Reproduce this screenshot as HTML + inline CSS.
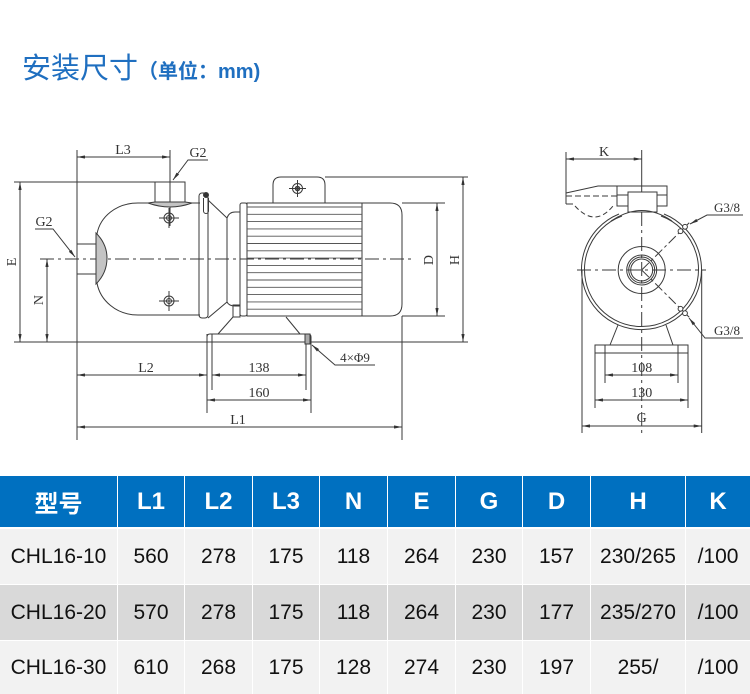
<!DOCTYPE html>
<html><head><meta charset="utf-8">
<style>
html,body{margin:0;padding:0;background:#fff;}
body{width:750px;height:694px;position:relative;overflow:hidden;font-family:"Liberation Sans","Noto Sans CJK SC",sans-serif;}
.t1{position:absolute;left:22px;top:50px;font-size:29px;color:#1f6fc0;font-family:"Liberation Sans","Noto Sans CJK SC",sans-serif;line-height:38px;white-space:nowrap;}
.t1 span{font-size:20px;font-weight:bold;}
.c{position:absolute;display:flex;align-items:center;justify-content:center;white-space:nowrap;}
.h{top:476px;height:51px;background:#0070c0;color:#fff;font-weight:bold;font-size:24px;}
.r1{top:529px;height:55px;background:#f2f2f2;color:#111;font-size:21px;}
.r2{top:585px;height:55px;background:#d9d9d9;color:#111;font-size:21px;}
.r3{top:641px;height:53px;background:#f2f2f2;color:#111;font-size:21px;}
svg{position:absolute;left:0;top:0;}
svg text{font-family:"Liberation Serif",serif;fill:#333;}
</style></head><body>
<div class="t1">安装尺寸<span>（单位：mm)</span></div>

<svg width="750" height="470" viewBox="0 0 750 470">
<defs>
<marker id="a" viewBox="0 0 10 4" refX="10" refY="2" markerWidth="9" markerHeight="3.2" orient="auto-start-reverse" markerUnits="userSpaceOnUse"><path d="M0,0 L10,2 L0,4z" fill="#333"/></marker>
</defs>
<g stroke="#3a3a3a" stroke-width="1" fill="none">
<!-- LEFT VIEW -->
<line x1="77" y1="150" x2="77" y2="440"/>
<line x1="170" y1="150" x2="170" y2="226"/>
<line x1="14" y1="182" x2="155" y2="182"/>
<line x1="14" y1="342" x2="468" y2="342"/>
<line x1="325" y1="177" x2="468" y2="177"/>
<line x1="402" y1="203" x2="445" y2="203"/>
<line x1="402" y1="316" x2="445" y2="316"/>
<line x1="402" y1="316" x2="402" y2="440"/>
<line x1="207" y1="334" x2="207" y2="413"/>
<line x1="311" y1="342" x2="311" y2="413"/>
<line x1="212" y1="334" x2="212" y2="390"/>
<line x1="306" y1="342" x2="306" y2="390"/>
<line x1="77" y1="157" x2="170" y2="157" marker-start="url(#a)" marker-end="url(#a)"/>
<line x1="20" y1="182" x2="20" y2="342" marker-start="url(#a)" marker-end="url(#a)"/>
<line x1="47" y1="259" x2="47" y2="342" marker-start="url(#a)" marker-end="url(#a)"/>
<line x1="463" y1="177" x2="463" y2="342" marker-start="url(#a)" marker-end="url(#a)"/>
<line x1="437" y1="203" x2="437" y2="316" marker-start="url(#a)" marker-end="url(#a)"/>
<line x1="77" y1="427" x2="402" y2="427" marker-start="url(#a)" marker-end="url(#a)"/>
<line x1="77" y1="375" x2="207" y2="375" marker-start="url(#a)" marker-end="url(#a)"/>
<line x1="212" y1="375" x2="306" y2="375" marker-start="url(#a)" marker-end="url(#a)"/>
<line x1="207" y1="400" x2="311" y2="400" marker-start="url(#a)" marker-end="url(#a)"/>
<polyline points="208,160 188,160 173,180" marker-end="url(#a)"/>
<polyline points="35,229 53,229 75,257" marker-end="url(#a)"/>
<polyline points="375,365 335,365 312,345" marker-end="url(#a)"/>
<line x1="40" y1="259" x2="415" y2="259" stroke-dasharray="14 4 3 4"/>
<rect x="77" y="244" width="19" height="30"/>
<path d="M96,233 C104,241 107,250 107,258 C107,267 104,276 96,284 Z" fill="#c4c4c4"/>
<path d="M200,203 H138 C116,203 100,217 97,234 M97,283 C100,300 116,315 138,315 H200"/>
<rect x="155" y="182" width="30" height="20"/>
<path d="M148,203 L155,202 H185 L192,203 Q170,211 148,203 Z" fill="#c4c4c4"/>
<circle cx="169" cy="218" r="5"/><circle cx="169" cy="218" r="2.5"/>
<line x1="159" y1="218" x2="179" y2="218"/><line x1="169" y1="208" x2="169" y2="228"/>
<circle cx="169" cy="301" r="5"/><circle cx="169" cy="301" r="2.5"/>
<line x1="159" y1="301" x2="179" y2="301"/><line x1="169" y1="291" x2="169" y2="311"/>
<rect x="199" y="193" width="9" height="125" rx="3"/>
<path d="M203.5,198 V211 A2.5,2.5 0 0 0 208.5,211 V198"/>
<circle cx="206" cy="195" r="2.5" fill="#333"/>
<line x1="208" y1="200" x2="227" y2="218"/>
<line x1="208" y1="318" x2="227" y2="302"/>
<line x1="227" y1="218" x2="227" y2="302"/>
<path d="M227,218 Q229,212 235,212 H240 M227,302 Q229,306 235,306 H240"/>
<rect x="233" y="305" width="7" height="12"/>
<rect x="240" y="203" width="7" height="113" rx="2"/>
<rect x="247" y="203" width="115" height="113"/>
<path d="M362,203 H390 Q402,203 402,215 V304 Q402,316 390,316 H362"/>
<g stroke="#555" stroke-width="0.9">
<line x1="247" y1="207" x2="362" y2="207"/><line x1="247" y1="214.3" x2="362" y2="214.3"/>
<line x1="247" y1="221.6" x2="362" y2="221.6"/><line x1="247" y1="228.9" x2="362" y2="228.9"/>
<line x1="247" y1="236.2" x2="362" y2="236.2"/><line x1="247" y1="243.5" x2="362" y2="243.5"/>
<line x1="247" y1="250.8" x2="362" y2="250.8"/><line x1="247" y1="258.1" x2="362" y2="258.1"/>
<line x1="247" y1="265.4" x2="362" y2="265.4"/><line x1="247" y1="272.7" x2="362" y2="272.7"/>
<line x1="247" y1="280" x2="362" y2="280"/><line x1="247" y1="287.3" x2="362" y2="287.3"/>
<line x1="247" y1="294.6" x2="362" y2="294.6"/><line x1="247" y1="301.9" x2="362" y2="301.9"/>
<line x1="247" y1="309.2" x2="362" y2="309.2"/>
</g>
<path d="M273,203 V185 Q273,177 281,177 H317 Q325,177 325,185 V203"/>
<circle cx="297.5" cy="188.5" r="5"/><circle cx="297.5" cy="188.5" r="2.3" fill="#666"/>
<line x1="289" y1="188.5" x2="306" y2="188.5"/><line x1="297.5" y1="180" x2="297.5" y2="197"/>
<line x1="233" y1="317" x2="218" y2="334"/>
<line x1="286" y1="317" x2="300" y2="334"/>
<path d="M207,342 V337 Q207,334 210,334 H308 Q311,334 311,337 V342"/>
<rect x="305" y="334" width="5" height="10" fill="#aaa"/>

<!-- RIGHT VIEW -->
<line x1="566" y1="152" x2="566" y2="204"/>
<line x1="641.7" y1="150" x2="641.7" y2="192"/>
<line x1="641.7" y1="212" x2="641.7" y2="433" stroke-dasharray="14 4 3 4"/>
<line x1="566" y1="159" x2="641.7" y2="159" marker-start="url(#a)" marker-end="url(#a)"/>
<polyline points="566,193 598,186 617,186"/>
<polyline points="566,204 573,204"/>
<line x1="566" y1="196" x2="617" y2="196" stroke-dasharray="6 3"/>
<path d="M575,206 Q595,228 613,206" stroke-dasharray="5 3"/>
<rect x="617" y="186" width="50" height="20"/>
<line x1="617" y1="195" x2="628" y2="195"/><line x1="657" y1="195" x2="667" y2="195"/>
<rect x="628" y="192" width="29" height="20" fill="#fff"/>
<path d="M619,214 A60,60 0 1 0 664,214"/>
<path d="M622,216 A57,57 0 1 0 661,216"/>
<path d="M611,221 Q641.7,200 672,221"/>
<circle cx="641.7" cy="270" r="23.5"/>
<circle cx="641.7" cy="270" r="15"/>
<circle cx="641.7" cy="270" r="13"/>
<circle cx="641.7" cy="270" r="11"/>
<line x1="577" y1="270" x2="706" y2="270" stroke-dasharray="14 4 3 4"/>
<line x1="641.7" y1="270" x2="690" y2="222" stroke-dasharray="10 3 3 3"/>
<line x1="641.7" y1="270" x2="690" y2="318" stroke-dasharray="10 3 3 3"/>
<circle cx="680.5" cy="231.2" r="2.4" fill="#fff"/><circle cx="685" cy="226.8" r="2.4" fill="#fff"/>
<circle cx="680.5" cy="308.8" r="2.4" fill="#fff"/><circle cx="685" cy="313.2" r="2.4" fill="#fff"/>
<polyline points="743,215 707,215 690,224" marker-end="url(#a)"/>
<polyline points="743,338 705,338 689,318" marker-end="url(#a)"/>
<line x1="618" y1="325" x2="610" y2="345"/>
<line x1="666" y1="325" x2="673" y2="345"/>
<rect x="595" y="345" width="93" height="8"/>
<line x1="605" y1="345" x2="605" y2="383"/>
<line x1="678" y1="345" x2="678" y2="383"/>
<line x1="595" y1="353" x2="595" y2="408"/>
<line x1="688" y1="353" x2="688" y2="408"/>
<line x1="582" y1="270" x2="582" y2="433"/>
<line x1="701.7" y1="270" x2="701.7" y2="433"/>
<line x1="605" y1="375" x2="678" y2="375" marker-start="url(#a)" marker-end="url(#a)"/>
<line x1="595" y1="400" x2="688" y2="400" marker-start="url(#a)" marker-end="url(#a)"/>
<line x1="582" y1="426" x2="701.7" y2="426" marker-start="url(#a)" marker-end="url(#a)"/>
</g>
<g font-size="14" text-anchor="middle">
<text x="123" y="154">L3</text>
<text x="198" y="157">G2</text>
<text x="44" y="226">G2</text>
<text x="146" y="372">L2</text>
<text x="259" y="372">138</text>
<text x="259" y="397">160</text>
<text x="238" y="424">L1</text>
<text x="355" y="362" font-size="13">4×Φ9</text>
<text transform="translate(16,262) rotate(-90)">E</text>
<text transform="translate(43,300) rotate(-90)">N</text>
<text transform="translate(433,260) rotate(-90)">D</text>
<text transform="translate(459,260) rotate(-90)">H</text>
<text x="604" y="156">K</text>
<text x="641.7" y="372">108</text>
<text x="641.7" y="397">130</text>
<text x="641.7" y="422">G</text>
<text x="727" y="212" font-size="13">G3/8</text>
<text x="727" y="335" font-size="13">G3/8</text>
</g>
</svg>

<div class="c h" style="left:0;width:117px;">型号</div>
<div class="c h" style="left:118px;width:66px;">L1</div>
<div class="c h" style="left:185px;width:67px;">L2</div>
<div class="c h" style="left:253px;width:66px;">L3</div>
<div class="c h" style="left:320px;width:67px;">N</div>
<div class="c h" style="left:388px;width:67px;">E</div>
<div class="c h" style="left:456px;width:66px;">G</div>
<div class="c h" style="left:523px;width:67px;">D</div>
<div class="c h" style="left:591px;width:94px;">H</div>
<div class="c h" style="left:686px;width:64px;">K</div>

<div class="c r1" style="left:0;width:117px;">CHL16-10</div>
<div class="c r1" style="left:118px;width:66px;">560</div>
<div class="c r1" style="left:185px;width:67px;">278</div>
<div class="c r1" style="left:253px;width:66px;">175</div>
<div class="c r1" style="left:320px;width:67px;">118</div>
<div class="c r1" style="left:388px;width:67px;">264</div>
<div class="c r1" style="left:456px;width:66px;">230</div>
<div class="c r1" style="left:523px;width:67px;">157</div>
<div class="c r1" style="left:591px;width:94px;">230/265</div>
<div class="c r1" style="left:686px;width:64px;">/100</div>

<div class="c r2" style="left:0;width:117px;">CHL16-20</div>
<div class="c r2" style="left:118px;width:66px;">570</div>
<div class="c r2" style="left:185px;width:67px;">278</div>
<div class="c r2" style="left:253px;width:66px;">175</div>
<div class="c r2" style="left:320px;width:67px;">118</div>
<div class="c r2" style="left:388px;width:67px;">264</div>
<div class="c r2" style="left:456px;width:66px;">230</div>
<div class="c r2" style="left:523px;width:67px;">177</div>
<div class="c r2" style="left:591px;width:94px;">235/270</div>
<div class="c r2" style="left:686px;width:64px;">/100</div>

<div class="c r3" style="left:0;width:117px;">CHL16-30</div>
<div class="c r3" style="left:118px;width:66px;">610</div>
<div class="c r3" style="left:185px;width:67px;">268</div>
<div class="c r3" style="left:253px;width:66px;">175</div>
<div class="c r3" style="left:320px;width:67px;">128</div>
<div class="c r3" style="left:388px;width:67px;">274</div>
<div class="c r3" style="left:456px;width:66px;">230</div>
<div class="c r3" style="left:523px;width:67px;">197</div>
<div class="c r3" style="left:591px;width:94px;">255/</div>
<div class="c r3" style="left:686px;width:64px;">/100</div>
</body></html>
